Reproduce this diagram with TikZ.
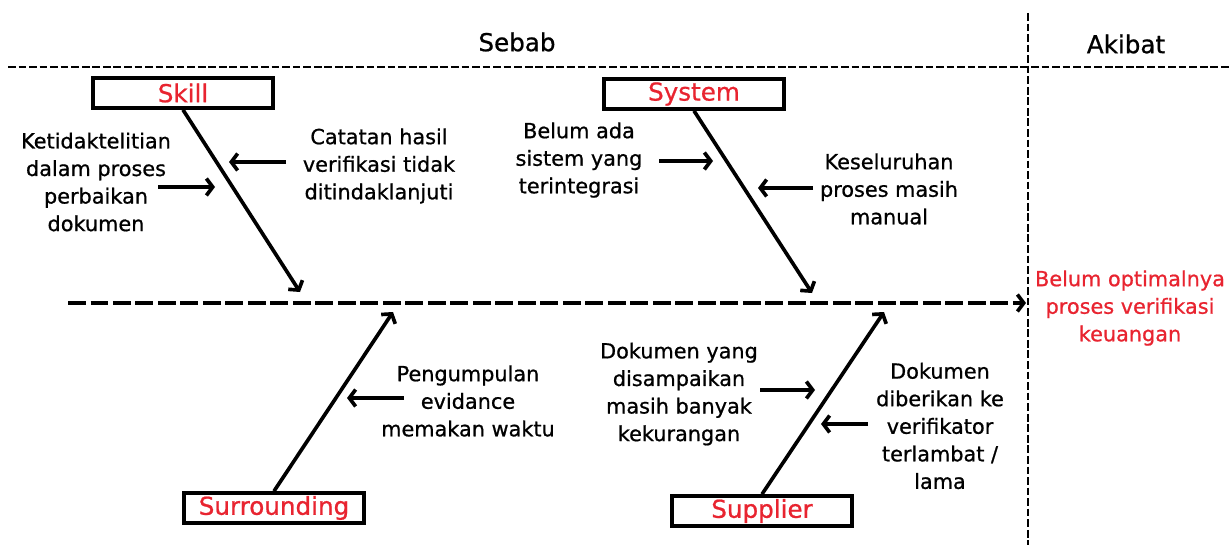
\documentclass[tikz,border=0pt]{standalone}
\usepackage{fontspec}
\setmainfont[FakeBold=0.8]{DejaVu Sans}
\usetikzlibrary{arrows.meta}
\definecolor{causered}{RGB}{232,36,48}

\tikzset{
  catbox/.style={draw, line width=2.6pt, minimum width=4.5cm, minimum height=0.75cm,
    inner sep=0pt, text=causered, font=\fontsize{17.5}{20}\selectfont},
  bone/.style={line width=2.6pt, -{Straight Barb[length=4.5pt,width=12pt]}},
  gridline/.style={line width=1.6pt, dash pattern=on 5.5pt off 2pt},
  spineline/.style={line width=2.6pt, dash pattern=on 12.5pt off 3.5pt,
    -{Straight Barb[length=4.5pt,width=12pt]}},
  lbl/.style={align=center, inner sep=0pt, font=\fontsize{14.8}{19.6}\selectfont},
  head/.style={font=\fontsize{17.5}{20}\selectfont},
}

\begin{document}
\begin{tikzpicture}[x=0.025cm, y=-0.025cm]
    \useasboundingbox (0,0) rectangle (1231,545);

    \coordinate (topL) at (8,67);
    \coordinate (topR) at (1231,67);
    \coordinate (vTop) at (1028,13);
    \coordinate (vBot) at (1028,545);
    \coordinate (tail) at (68,303);
    \coordinate (head) at (1026,303);

    % frame and main spine
    \draw[gridline] (topL) -- (topR);
    \draw[gridline] (vTop) -- (vBot);
    \draw[spineline] (tail) -- (head);

    \node[head] (sebab) at (517,42) {Sebab};
    \node[head] (akibat) at (1126,44) {Akibat};

    % categories
    \node[catbox] (skill) at (183,93) {Skill};
    \node[catbox] (system) at (694,94) {System};
    \node[catbox] (surround) at (274,508) {Surrounding};
    \node[catbox] (supplier) at (762,511) {Supplier};

    \coordinate (skillT) at (300,292);
    \coordinate (systemT) at (812,293);
    \coordinate (surroundT) at (393,312);
    \coordinate (supplierT) at (884,312);

    \draw[bone] (skill.south) -- (skillT);
    \draw[bone] (system.south) -- (systemT);
    \draw[bone] (surround.north) -- (surroundT);
    \draw[bone] (supplier.north) -- (supplierT);

    % causes
    \node[lbl] (c1) at (96,182) {Ketidaktelitian\\dalam proses\\perbaikan\\dokumen};
    \node[lbl] (c2) at (379,166) {Catatan hasil\\verifikasi tidak\\ditindaklanjuti};
    \node[lbl] (c3) at (579,160) {Belum ada\\sistem yang\\terintegrasi};
    \node[lbl] (c4) at (889,189) {Keseluruhan\\proses masih\\manual};
    \node[lbl] (c5) at (468,401) {Pengumpulan\\evidance\\memakan waktu};
    \node[lbl] (c6) at (679,394) {Dokumen yang\\disampaikan\\masih banyak\\kekurangan};
    \node[lbl] (c7) at (940,426) {Dokumen\\diberikan ke\\verifikator\\terlambat /\\lama};

    \coordinate (a1s) at (158,187);  \coordinate (a1e) at (215,187);
    \coordinate (a2s) at (286,162);  \coordinate (a2e) at (229,162);
    \coordinate (a3s) at (659,161);  \coordinate (a3e) at (713,161);
    \coordinate (a4s) at (813,188);  \coordinate (a4e) at (758,188);
    \coordinate (a5s) at (404,398);  \coordinate (a5e) at (347,398);
    \coordinate (a6s) at (760,390);  \coordinate (a6e) at (815,390);
    \coordinate (a7s) at (868,424);  \coordinate (a7e) at (821,424);

    \foreach \i in {1,...,7}
        \draw[bone] (a\i s) -- (a\i e);

    % effect
    \node[lbl, text=causered] (effect) at (1130,308)
        {Belum optimalnya\\proses verifikasi\\keuangan};
\end{tikzpicture}
\end{document}
